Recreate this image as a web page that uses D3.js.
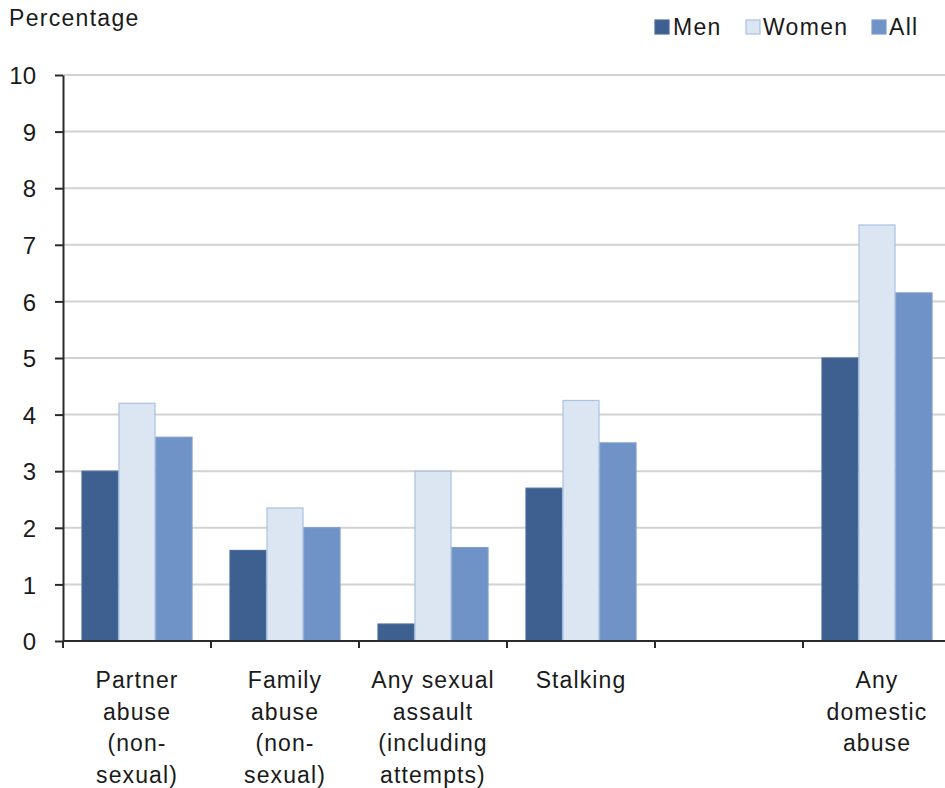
<!DOCTYPE html>
<html>
<head>
<meta charset="utf-8">
<script src="https://cdn.jsdelivr.net/npm/d3@7"></script>
<style>
  html, body { margin: 0; padding: 0; background: #fff; }
  svg { display: block; }
  text { font-family: "Liberation Sans", Arial, sans-serif; fill: #1a1a1a; }
</style>
</head>
<body>
<svg id="chart" width="945" height="788"></svg>
<script>
// ---- data ----
const categories = ["Partner abuse (non-sexual)", "Family abuse (non-sexual)",
  "Any sexual assault (including attempts)", "Stalking", "gap", "Any domestic abuse"];
const categoryLabels = [
  ["Partner", "abuse", "(non-", "sexual)"],
  ["Family", "abuse", "(non-", "sexual)"],
  ["Any sexual", "assault", "(including", "attempts)"],
  ["Stalking"],
  [],
  ["Any", "domestic", "abuse"]
];
const seriesNames = ["Men", "Women", "All"];
const men   = [3.0, 1.6, 0.3, 2.7, null, 5.0];
const women = [4.2, 2.35, 3.0, 4.25, null, 7.35];
const all   = [3.6, 2.0, 1.65, 3.5, null, 6.15];
const yTicks = [0, 1, 2, 3, 4, 5, 6, 7, 8, 9, 10];
const yLabel = "Percentage";

(function () {
const colors = { Men: "#3d6091", Women: "#dce6f2", All: "#6f93c6" };
const strokes = { Men: "#4a6c9c", Women: "#a9c1e0", All: "#7b9ccc" };

// ---- layout ----
const svg = d3.select("#chart");
const mLeft = 63, mRight = 951, mTop = 75, mBottom = 641;

const x = d3.scaleBand().domain(categories).range([mLeft, mRight]).paddingInner(0).paddingOuter(0);
const xs = d3.scaleBand().domain(seriesNames).range([0, x.bandwidth()]).paddingInner(0).paddingOuter(0.5);
const y = d3.scaleLinear().domain([0, 10]).range([mBottom, mTop]);

// gridlines
svg.append("g").selectAll("line").data(yTicks.filter(d => d > 0)).join("line")
  .attr("x1", mLeft).attr("x2", mRight)
  .attr("y1", d => y(d)).attr("y2", d => y(d))
  .attr("stroke", "#d2d2d2").attr("stroke-width", 2);

// bars
const seriesData = { Men: men, Women: women, All: all };
const rows = [];
categories.forEach((c, i) => {
  seriesNames.forEach(s => {
    const v = seriesData[s][i];
    if (v != null) rows.push({ c, s, v });
  });
});
svg.append("g").selectAll("rect").data(rows).join("rect")
  .attr("x", d => x(d.c) + xs(d.s) + 0.5)
  .attr("y", d => y(d.v))
  .attr("width", xs.bandwidth() - 1)
  .attr("height", d => y(0) - y(d.v))
  .attr("fill", d => colors[d.s])
  .attr("stroke", d => strokes[d.s])
  .attr("stroke-width", 1.2);

// y axis
const yAxis = d3.axisLeft(y).tickValues(yTicks).tickSize(8).tickSizeOuter(0).tickPadding(19);
const gy = svg.append("g").attr("transform", `translate(${mLeft},0)`).call(yAxis);
gy.select(".domain").attr("stroke", "#2a2a2a").attr("stroke-width", 2);
gy.selectAll(".tick line").attr("stroke", "#2a2a2a").attr("stroke-width", 2);
gy.selectAll(".tick text")
  .style("font-size", "24px")
  .style("font-family", "'Liberation Sans', Arial, sans-serif")
  .attr("fill", "#1a1a1a")
  .attr("dy", "0.36em");

// x axis (ticks at category boundaries)
const boundaries = categories.map(c => x(c)).concat([mRight]);
svg.append("line").attr("x1", mLeft).attr("x2", mRight).attr("y1", mBottom).attr("y2", mBottom)
  .attr("stroke", "#2a2a2a").attr("stroke-width", 2);
svg.append("g").selectAll("line").data(boundaries).join("line")
  .attr("x1", d => d).attr("x2", d => d)
  .attr("y1", mBottom).attr("y2", mBottom + 7)
  .attr("stroke", "#2a2a2a").attr("stroke-width", 2);

// category labels
const lab = svg.append("g");
categories.forEach((c, i) => {
  const cx = x(c) + x.bandwidth() / 2;
  categoryLabels[i].forEach((line, j) => {
    lab.append("text")
      .attr("x", cx).attr("y", 688 + j * 31.5)
      .attr("text-anchor", "middle")
      .style("font-size", "23px")
      .style("letter-spacing", "1.1px")
      .text(line);
  });
});

// y label
svg.append("text").attr("x", 9).attr("y", 26)
  .style("font-size", "23px").style("letter-spacing", "1.3px").text(yLabel);

// legend
const legendPos = [
  { s: "Men", sx: 655, tx: 673 },
  { s: "Women", sx: 746, tx: 763 },
  { s: "All", sx: 872, tx: 889 }
];
const lg = svg.append("g");
legendPos.forEach(p => {
  lg.append("rect").attr("x", p.sx).attr("y", 20).attr("width", 14).attr("height", 14)
    .attr("fill", colors[p.s]).attr("stroke", strokes[p.s]).attr("stroke-width", 1.2);
  lg.append("text").attr("x", p.tx).attr("y", 35)
    .style("font-size", "23px").style("letter-spacing", "1.3px").text(p.s);
});
})();
</script>
</body>
</html>
